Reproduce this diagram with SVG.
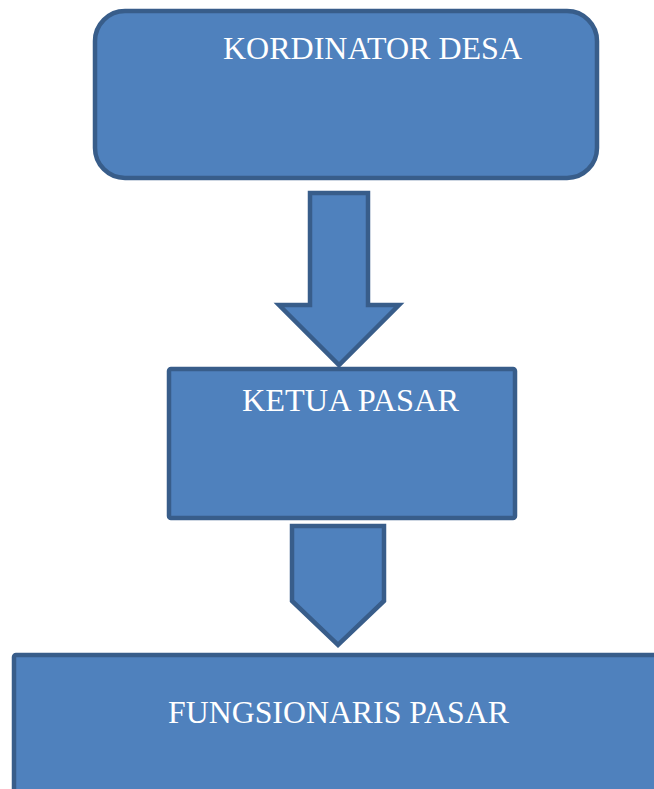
<svg xmlns="http://www.w3.org/2000/svg" width="654" height="789" viewBox="0 0 654 789">
  <style>
    .shape { fill: #4f81bd; stroke: #385d8a; stroke-width: 4.5; stroke-linejoin: miter; }
    .label { font-family: "Liberation Serif", "Times New Roman", serif; font-size: 31.5px; fill: #ffffff; }
  </style>
  <rect width="654" height="789" fill="#ffffff"/>
  <g id="connectors">
    <path id="arrow1" class="shape" d="M310,193 L368,193 L368,305 L399,305 L339,365 L279,305 L310,305 Z"/>
    <path id="arrow2" class="shape" d="M292,526 L384,526 L384,601 L338,645 L292,601 Z"/>
  </g>
  <g id="node-kordinator">
    <rect class="shape" x="95" y="11" width="502" height="167" rx="30" ry="30"/>
    <text class="label" x="223" y="59" textLength="299" lengthAdjust="spacingAndGlyphs">KORDINATOR DESA</text>
  </g>
  <g id="node-ketua">
    <rect class="shape" x="169" y="369" width="346" height="149" rx="2" ry="2"/>
    <text class="label" x="242" y="411" textLength="217" lengthAdjust="spacingAndGlyphs">KETUA PASAR</text>
  </g>
  <g id="node-fungsionaris">
    <rect class="shape" x="14" y="655" width="700" height="200" rx="2" ry="2"/>
    <text class="label" x="168" y="723" textLength="341" lengthAdjust="spacingAndGlyphs">FUNGSIONARIS PASAR</text>
  </g>
</svg>
